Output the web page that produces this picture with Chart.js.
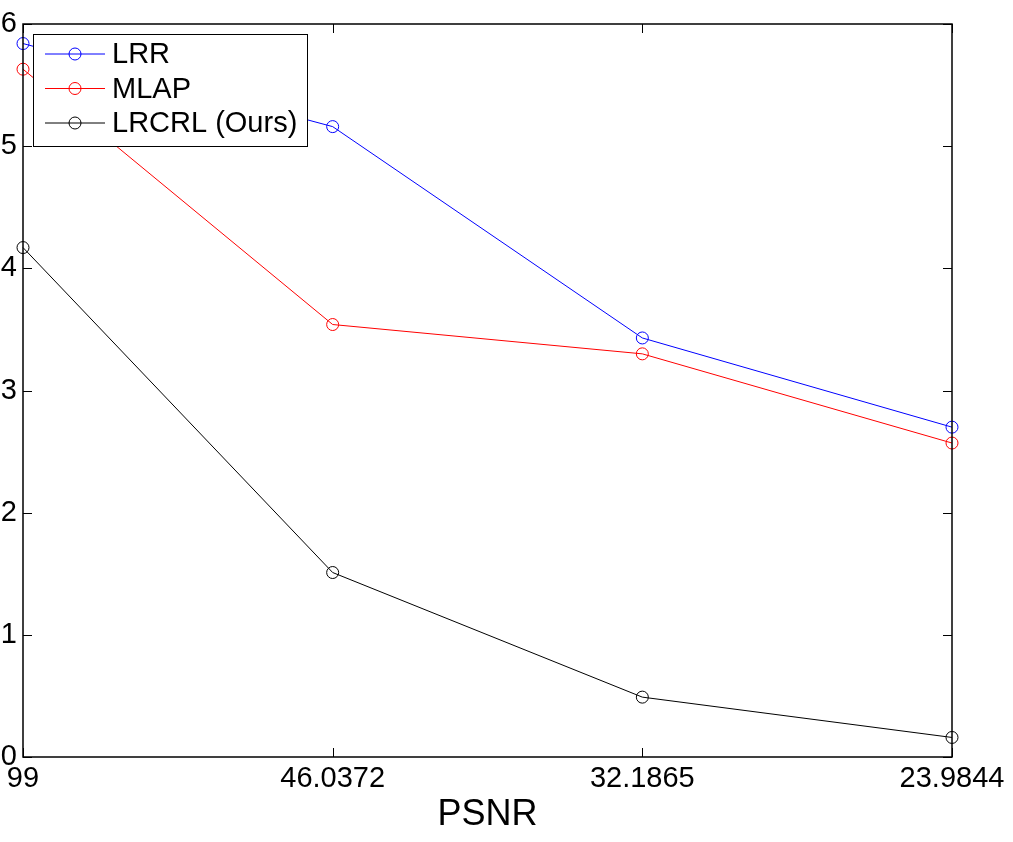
<!DOCTYPE html>
<html>
<head>
<meta charset="utf-8">
<script src="https://cdn.jsdelivr.net/npm/chart.js@4"></script>
<style>
    html, body { margin: 0; padding: 0; background: #fff; }
    #wrap { width: 1013px; height: 842px; position: relative; }
</style>
</head>
<body>
<div id="wrap"><canvas id="chart"></canvas></div>
<script>
const psnrLabels = ['99', '46.0372', '32.1865', '23.9844'];
const lrrValues = [5.84, 5.16, 3.43, 2.70];
const mlapValues = [5.63, 3.54, 3.30, 2.57];
const lrcrlValues = [4.17, 1.51, 0.49, 0.16];
const yTicks = [0, 1, 2, 3, 4, 5, 6];

const FONT = 'Liberation Sans, Arial, Helvetica, sans-serif';

// MATLAB style box with inward ticks on all four sides
const boxPlugin = {
    id: 'boxPlugin',
    afterDatasetsDraw: (chart) => {
        const { ctx, chartArea: a, scales: { x, y } } = chart;
        const len = 9;
        ctx.save();
        ctx.strokeStyle = '#000';
        ctx.lineWidth = 1;
        ctx.beginPath();
        x.ticks.forEach((t, i) => {
            const px = Math.round(x.getPixelForTick(i)) + 0.5;
            ctx.moveTo(px, a.bottom); ctx.lineTo(px, a.bottom - len);
            ctx.moveTo(px, a.top); ctx.lineTo(px, a.top + len);
        });
        y.ticks.forEach(t => {
            const py = Math.round(y.getPixelForValue(t.value)) + 0.5;
            ctx.moveTo(a.left, py); ctx.lineTo(a.left + len, py);
            ctx.moveTo(a.right, py); ctx.lineTo(a.right - len, py);
        });
        ctx.stroke();
        ctx.lineWidth = 1.5;
        ctx.strokeRect(a.left, a.top, a.right - a.left, a.bottom - a.top);

        // legend inside the axes, top left
        const lx = a.left + 10, ly = a.top + 10, lw = 274, lh = 112;
        ctx.fillStyle = '#fff';
        ctx.fillRect(lx, ly, lw, lh);
        ctx.lineWidth = 1;
        ctx.strokeRect(lx + 0.5, ly + 0.5, lw, lh);
        ctx.font = '29px ' + FONT;
        ctx.textBaseline = 'middle';
        chart.data.datasets.forEach((ds, i) => {
            const ry = ly + 20 + i * 34.5;
            ctx.strokeStyle = ds.borderColor;
            ctx.beginPath();
            ctx.moveTo(lx + 12, ry); ctx.lineTo(lx + 72, ry);
            ctx.stroke();
            ctx.beginPath();
            ctx.arc(lx + 42, ry, 6, 0, Math.PI * 2);
            ctx.stroke();
            ctx.fillStyle = '#000';
            ctx.fillText(ds.label, lx + 79, ry + 1);
        });
        ctx.restore();
    }
};

const makeSet = (label, data, color) => ({
    label: label,
    data: data,
    borderColor: color,
    backgroundColor: 'transparent',
    borderWidth: 1,
    pointRadius: 6,
    pointBorderWidth: 1,
    pointBackgroundColor: 'transparent',
    pointBorderColor: color,
    tension: 0,
    clip: false
});

new Chart(document.getElementById('chart').getContext('2d'), {
    type: 'line',
    data: {
        labels: psnrLabels,
        datasets: [
            makeSet('LRR', lrrValues, '#0000ff'),
            makeSet('MLAP', mlapValues, '#ff0000'),
            makeSet('LRCRL (Ours)', lrcrlValues, '#000000')
        ]
    },
    options: {
        responsive: true,
        maintainAspectRatio: false,
        animation: false,
        layout: { padding: { top: 24, right: 61, left: 0, bottom: 0 } },
        plugins: {
            legend: { display: false },
            tooltip: { enabled: false }
        },
        scales: {
            x: {
                type: 'category',
                offset: false,
                grid: { display: false, drawTicks: false },
                border: { display: false },
                ticks: {
                    color: '#000',
                    font: { family: FONT, size: 29 },
                    padding: 5,
                    maxRotation: 0,
                    autoSkip: false
                },
                title: {
                    display: true,
                    text: 'PSNR',
                    color: '#000',
                    font: { family: FONT, size: 36 },
                    padding: { top: 0, bottom: 5 }
                },
                afterFit: (scale) => { scale.height = 85; }
            },
            y: {
                min: 0,
                max: 6,
                afterBuildTicks: (scale) => { scale.ticks = yTicks.map(v => ({ value: v })); },
                grid: { display: false, drawTicks: false },
                border: { display: false },
                ticks: {
                    color: '#000',
                    font: { family: FONT, size: 29 },
                    padding: 6
                },
                afterFit: (scale) => { scale.width = 23; }
            }
        }
    },
    plugins: [boxPlugin]
});
</script>
</body>
</html>
